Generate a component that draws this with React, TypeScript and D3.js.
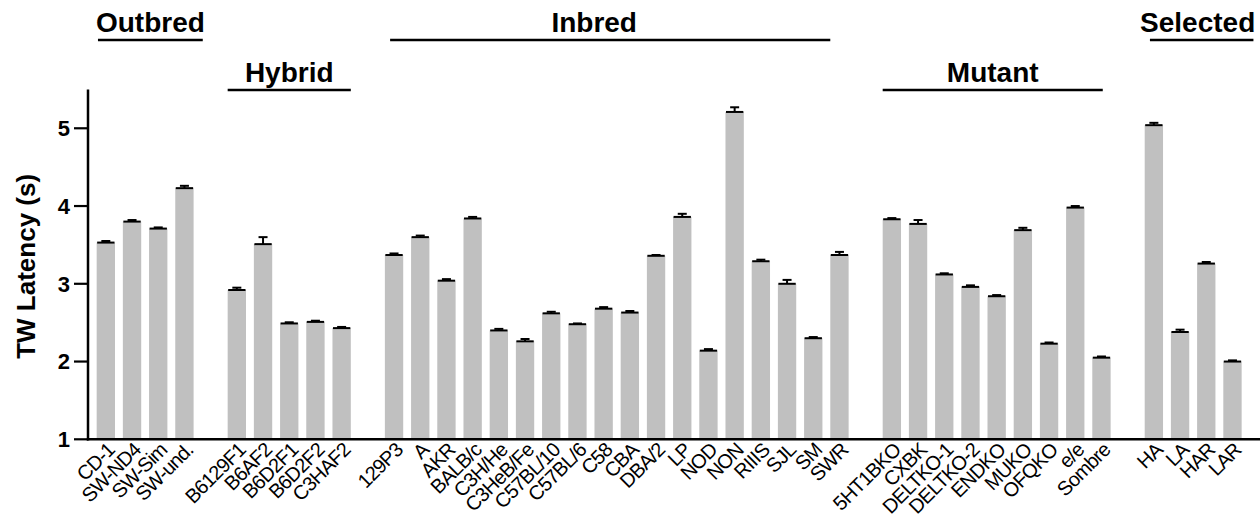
import React from "react";
import * as d3 from "d3";

// strain groups, in plotting order
const groupNames = ["Outbred", "Hybrid", "Inbred", "Mutant", "Selected"];
const outbred = ["CD-1", "SW-ND4", "SW-Sim", "SW-und."];
const hybrid = ["B6129F1", "B6AF2", "B6D2F1", "B6D2F2", "C3HAF2"];
const inbred = [
  "129P3", "A", "AKR", "BALB/c", "C3H/He", "C3HeB/Fe", "C57BL/10", "C57BL/6", "C58",
  "CBA", "DBA/2", "LP", "NOD", "NON", "RIIIS", "SJL", "SM", "SWR",
];
const mutant = ["5HT1BKO", "CXBK", "DELTKO-1", "DELTKO-2", "ENDKO", "MUKO", "OFQKO", "e/e", "Sombre"];
const selected = ["HA", "LA", "HAR", "LAR"];

// mean tail-withdrawal latency (s)
const outbredMean = [3.53, 3.80, 3.71, 4.23];
const hybridMean = [2.92, 3.51, 2.49, 2.51, 2.43];
const inbredMean = [
  3.37, 3.60, 3.04, 3.84, 2.40, 2.26, 2.62, 2.48, 2.68,
  2.63, 3.36, 3.86, 2.14, 5.21, 3.29, 3.00, 2.30, 3.37,
];
const mutantMean = [3.83, 3.77, 3.12, 2.96, 2.84, 3.69, 2.23, 3.98, 2.05];
const selectedMean = [5.04, 2.38, 3.26, 2.00];

// SEM
const outbredSem = [0.02, 0.02, 0.015, 0.03];
const hybridSem = [0.03, 0.09, 0.015, 0.015, 0.015];
const inbredSem = [
  0.02, 0.02, 0.02, 0.02, 0.02, 0.03, 0.02, 0.01, 0.02,
  0.02, 0.01, 0.04, 0.02, 0.06, 0.02, 0.05, 0.015, 0.04,
];
const mutantSem = [0.015, 0.05, 0.015, 0.02, 0.015, 0.03, 0.015, 0.02, 0.015];
const selectedSem = [0.03, 0.03, 0.02, 0.015];

const yTicks = [1, 2, 3, 4, 5];

const groups = [outbred, hybrid, inbred, mutant, selected];
const means = [outbredMean, hybridMean, inbredMean, mutantMean, selectedMean];
const sems = [outbredSem, hybridSem, inbredSem, mutantSem, selectedSem];

const W = 1260;
const H = 519;
const font = "'Liberation Sans', Arial, Helvetica, sans-serif";

// header row (0 = top, 1 = lower), line trims in band steps, text nudge in px
const headerRow = [0, 1, 0, 1, 0];
const headerTrim = [[0.05, -0.35], [0, 0], [0.2, 0.7], [0, 0.3], [0.2, -0.45]];
const headerNudge = [0, 0, -16, 0, -4];

export default function App() {
  // one empty slot between groups
  const slots: string[] = [];
  groups.forEach((g, i) => {
    if (i > 0) slots.push("gap" + i);
    g.forEach((s) => slots.push(s));
  });

  const bars = groups.flatMap((g, gi) =>
    g.map((s, i) => ({ name: s, mean: means[gi][i], sem: sems[gi][i] }))
  );

  const x = d3.scaleBand().domain(slots).range([88.8, 1249.5]).paddingInner(0.3).paddingOuter(0.3);
  const y = d3.scaleLinear().domain([1, 5.5]).range([439.3, 89.4]);
  const bw = x.bandwidth();
  const step = x.step();
  const y0 = y(1);

  return (
    <svg width={W} height={H} style={{ position: "absolute", left: 0, top: 0, background: "#fff" }} fontFamily={font}>
      {/* bars */}
      {bars.map((d) => {
        const bx = x(d.name)!;
        const cx = bx + bw / 2;
        return (
          <g key={d.name}>
            <rect x={bx} y={y(d.mean)} width={bw} height={y0 - y(d.mean)} fill="#c0c0c0" />
            <line x1={bx + 0.5} x2={bx + bw - 0.5} y1={y(d.mean)} y2={y(d.mean)} stroke="#000" strokeWidth={2} />
            <line x1={cx} x2={cx} y1={y(d.mean)} y2={y(d.mean + d.sem)} stroke="#000" strokeWidth={2} />
            <line x1={cx - 4.5} x2={cx + 4.5} y1={y(d.mean + d.sem)} y2={y(d.mean + d.sem)} stroke="#000" strokeWidth={2} />
          </g>
        );
      })}

      {/* axes */}
      <line x1={88} x2={88} y1={y(5.5)} y2={y0 + 1.2} stroke="#000" strokeWidth={2.5} />
      <line x1={86.8} x2={W} y1={y0} y2={y0} stroke="#000" strokeWidth={2.5} />
      {yTicks.map((t) => (
        <g key={t}>
          <line x1={74} x2={88} y1={y(t)} y2={y(t)} stroke="#000" strokeWidth={2.2} />
          <text x={70} y={y(t)} dy="0.36em" textAnchor="end" fontSize={22} fontWeight="bold">
            {t}
          </text>
        </g>
      ))}
      <text
        transform={`translate(35,${(y(1) + y(5.5)) / 2 + 2}) rotate(-90)`}
        textAnchor="middle"
        fontSize={26}
        fontWeight="bold"
      >
        TW Latency (s)
      </text>

      {/* category labels */}
      {bars.map((d) => {
        const cx = x(d.name)! + bw / 2;
        return (
          <text
            key={"l" + d.name}
            transform={`translate(${cx + 10},${y0 + 12}) rotate(-45)`}
            textAnchor="end"
            fontSize={20}
            letterSpacing={-0.8}
          >
            {d.name}
          </text>
        );
      })}

      {/* group headers */}
      {groups.map((g, gi) => {
        const x1 = x(g[0])! + headerTrim[gi][0] * step;
        const x2 = x(g[g.length - 1])! + bw - headerTrim[gi][1] * step;
        const ly = headerRow[gi] === 0 ? 40 : 90;
        return (
          <g key={groupNames[gi]}>
            <line x1={x1} x2={x2} y1={ly} y2={ly} stroke="#000" strokeWidth={2.5} />
            <text x={(x1 + x2) / 2 + headerNudge[gi]} y={ly - 8} textAnchor="middle" fontSize={28} fontWeight="bold">
              {groupNames[gi]}
            </text>
          </g>
        );
      })}
    </svg>
  );
}
